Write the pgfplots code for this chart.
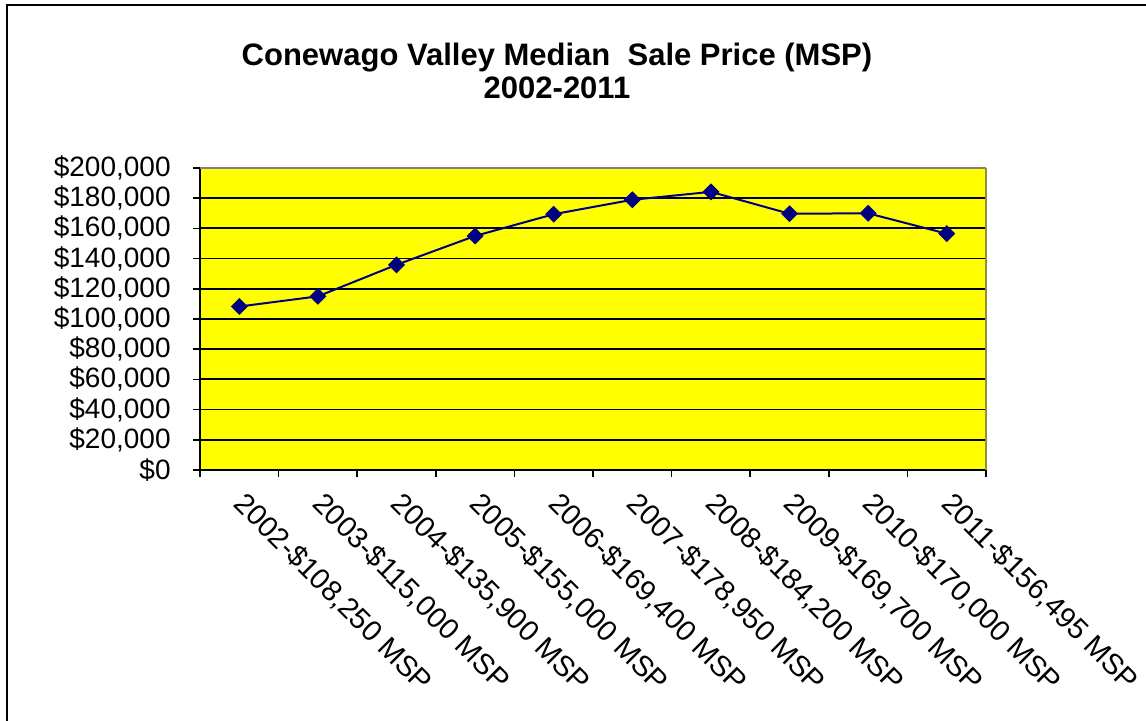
\documentclass[border=0pt]{standalone}
\usepackage{pgfplots}
\pgfplotsset{compat=1.18}
\usepackage{fontspec}
\setmainfont{Liberation Sans}
\definecolor{navy}{RGB}{0,0,128}
\definecolor{ylw}{RGB}{255,255,0}
\begin{document}
\begin{tikzpicture}
\useasboundingbox (0,0) rectangle (573pt,360.5pt);
\draw[line width=1pt] (3.5pt,-30pt) -- (3.5pt,358pt) -- (620pt,358pt);
\node[anchor=base,font=\fontsize{15.5pt}{18pt}\selectfont\bfseries] at (278.5pt,327.5pt) {Conewago Valley Median\ \ Sale Price (MSP)};
\node[anchor=base,font=\fontsize{15.5pt}{18pt}\selectfont\bfseries] at (278.5pt,311pt) {2002-2011};
\begin{axis}[
  at={(100pt,125.5pt)}, anchor=south west,
  scale only axis, width=393pt, height=151pt,
  xmin=-0.5, xmax=9.5, ymin=0, ymax=200000,
  axis lines*=left,
  axis line style={line width=1pt, black},
  axis background/.style={fill=ylw},
  tick align=outside,
  major tick length=3.5pt,
  tick style={black, line width=0.8pt},
  xtick={-0.5,0.5,...,9.5},
  x tick label as interval,
  xticklabels={{2002-\$108,250 MSP},{2003-\$115,000 MSP},{2004-\$135,900 MSP},{2005-\$155,000 MSP},{2006-\$169,400 MSP},{2007-\$178,950 MSP},{2008-\$184,200 MSP},{2009-\$169,700 MSP},{2010-\$170,000 MSP},{2011-\$156,495 MSP}},
  xticklabel style={rotate=-45, anchor=north west, font=\fontsize{14.5pt}{16pt}\selectfont, inner sep=0pt, xshift=7.5pt, yshift=-1.5pt},
  scaled y ticks=false,
  ytick={0,20000,...,200000},
  yticklabels={\$0,{\$20,000},{\$40,000},{\$60,000},{\$80,000},{\$100,000},{\$120,000},{\$140,000},{\$160,000},{\$180,000},{\$200,000}},
  yticklabel style={font=\fontsize{14pt}{16pt}\selectfont, inner sep=0pt, xshift=-11pt},
  ymajorgrids,
  major grid style={black, line width=0.9pt},
  clip=false,
]
\addplot[color=navy, line width=1pt, mark=square*, mark size=2.5pt, mark options={rotate=45, fill=navy, draw=navy}] coordinates {
(0,108250) (1,115000) (2,135900) (3,155000) (4,169400) (5,178950) (6,184200) (7,169700) (8,170000) (9,156495)
};
\draw[gray, line width=0.9pt] (rel axis cs:0,1) -- (rel axis cs:1,1);
\draw[gray!60!ylw!80!black, line width=0.6pt] (rel axis cs:1,1) -- (rel axis cs:1,0);
\end{axis}
\end{tikzpicture}
\end{document}
